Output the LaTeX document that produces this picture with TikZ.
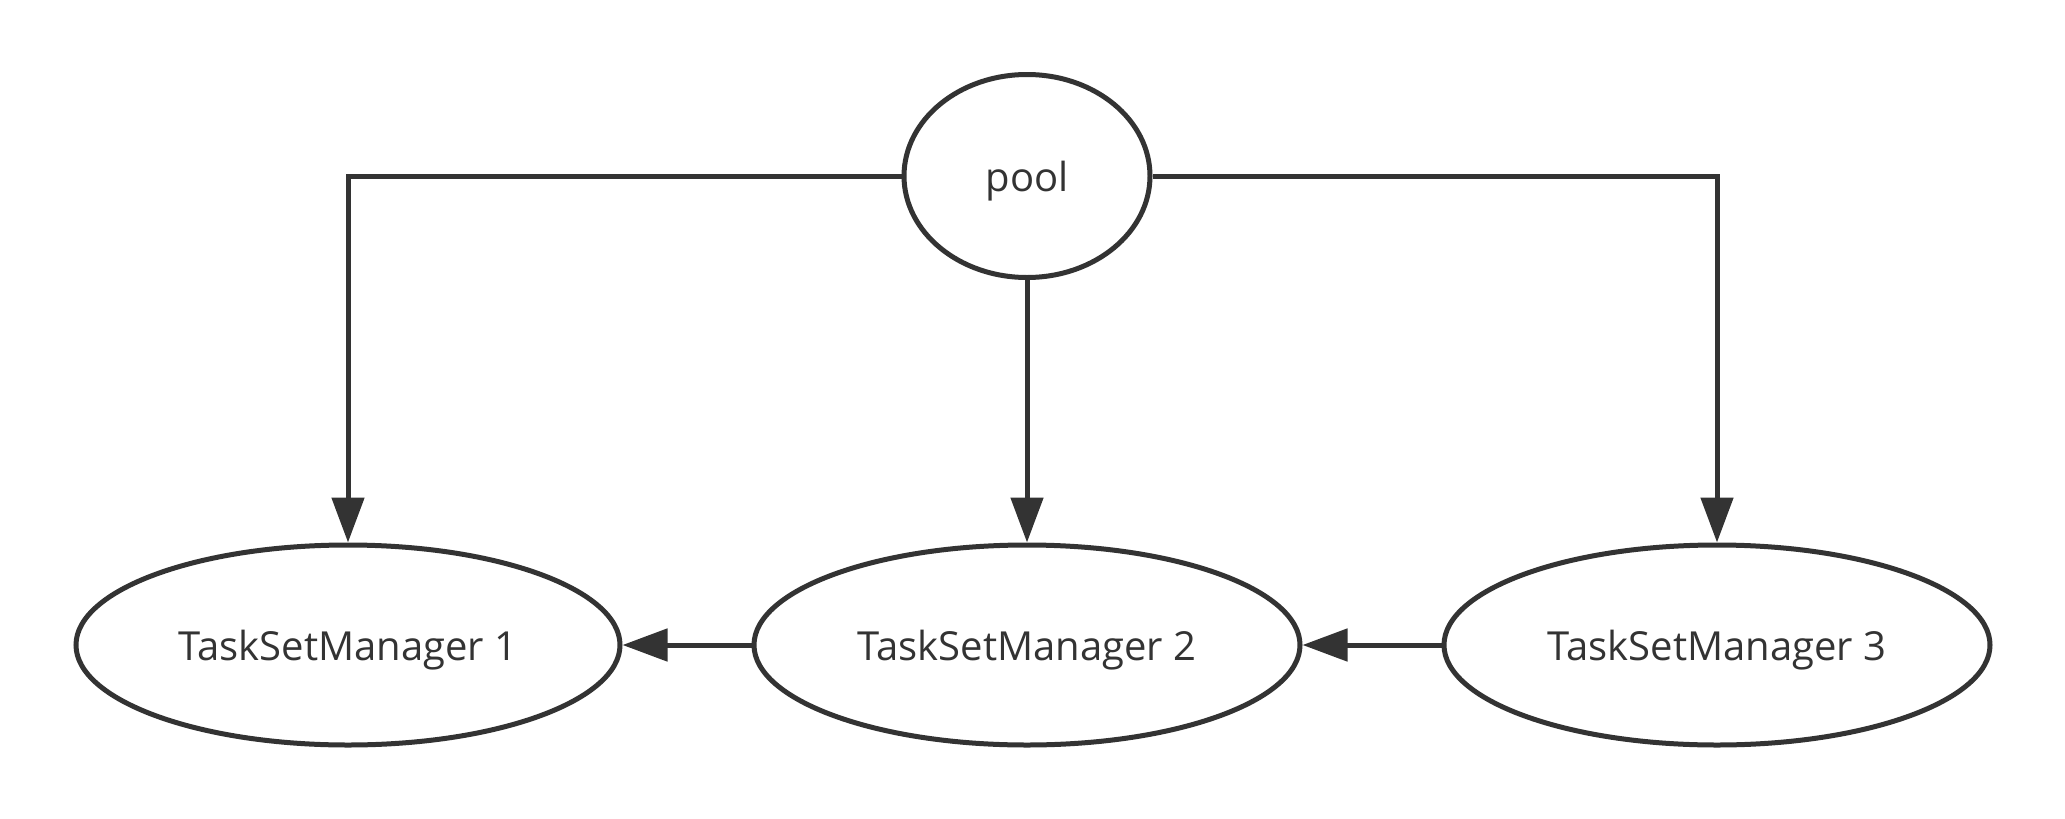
\documentclass[tikz,border=0pt]{standalone}
\usepackage{fontspec}
\setmainfont{Open Sans}
\usetikzlibrary{shapes.geometric,arrows.meta}
\definecolor{ink}{HTML}{333333}
\tikzset{
  oval/.style={ellipse, draw=ink, line width=5pt, fill=white, inner sep=0pt, text=ink, text depth=0pt, font=\fontsize{40}{48}\selectfont},
  arr/.style={draw=ink, line width=5pt, -{Triangle[length=45pt,width=32pt]}},
}
\begin{document}
\begin{tikzpicture}[x=1pt,y=-1pt]
\useasboundingbox (0,0) rectangle (2065,819);
\node[oval, minimum width=246pt, minimum height=203pt] (pool) at (1027,176) {pool};
\node[oval, minimum width=544pt, minimum height=200pt] (t1) at (348,645) {TaskSetManager 1};
\node[oval, minimum width=546pt, minimum height=200pt] (t2) at (1027,645) {TaskSetManager 2};
\node[oval, minimum width=546pt, minimum height=200pt] (t3) at (1717,645) {TaskSetManager 3};
\draw[arr] (pool.west) -| (t1.north);
\draw[arr] (pool.east) -| (t3.north);
\draw[arr] (pool.south) -- (t2.north);
\draw[arr] (t2.west) -- (t1.east);
\draw[arr] (t3.west) -- (t2.east);
\end{tikzpicture}
\end{document}
